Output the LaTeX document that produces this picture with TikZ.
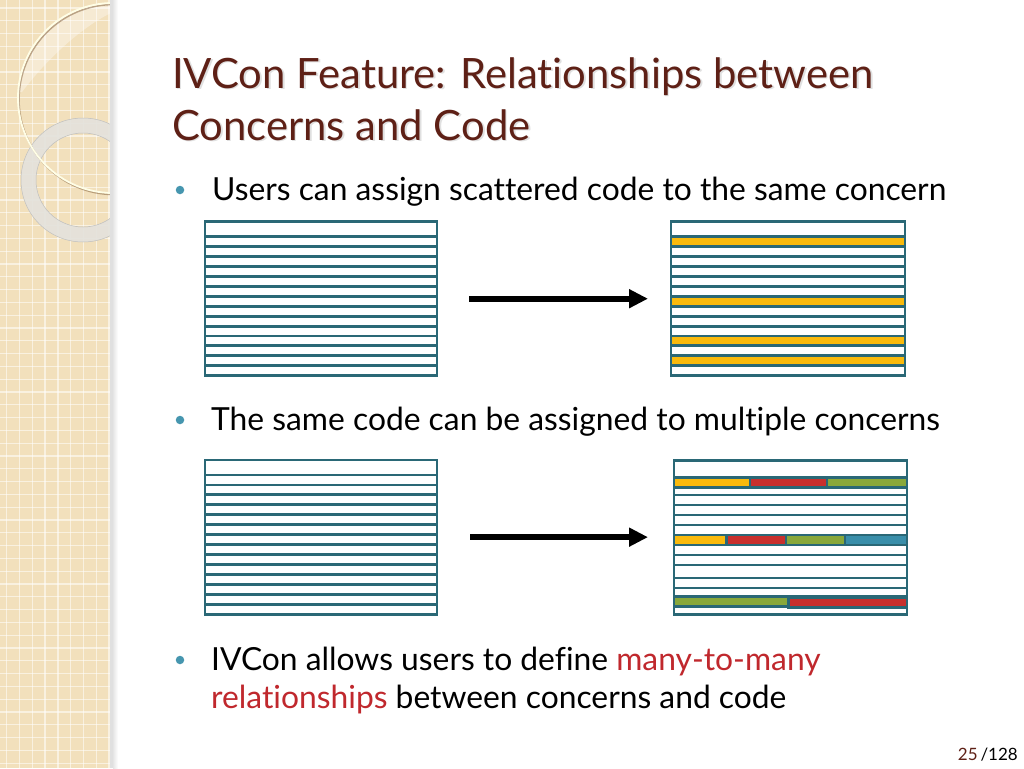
\documentclass[tikz,border=0pt]{standalone}
\usepackage{fontspec}
\setmainfont[Ligatures=NoCommon]{Lato}
\usetikzlibrary{arrows.meta}
\definecolor{rowc}{RGB}{42,104,118}
\definecolor{cyel}{RGB}{250,186,12}
\definecolor{cred}{RGB}{200,48,45}
\definecolor{cgrn}{RGB}{137,168,58}
\definecolor{cblu}{RGB}{58,143,170}
\definecolor{titlec}{RGB}{94,32,22}
\definecolor{redtxt}{RGB}{192,40,45}
\definecolor{bulc}{RGB}{70,150,175}
\definecolor{panelbg}{RGB}{242,224,188}
\definecolor{ringc}{RGB}{228,226,220}
\tikzset{
  boxframe/.style={draw=rowc, line width=2.9pt, rectangle, inner sep=0pt, outer sep=0pt, anchor=north west},
  rowline/.style={draw=rowc, line width=2.9pt},
  seg/.style={draw=rowc, line width=2.9pt},
  bigarrow/.style={line width=6pt, -{Triangle[length=19pt,width=18pt]}},
  bul/.style={circle, fill=bulc, inner sep=0pt, minimum size=8.5pt},
  body/.style={anchor=base west, inner sep=0pt, font=\fontsize{31.8}{38}\selectfont},
  ttl/.style={anchor=base west, inner sep=0pt, text=titlec, font=\fontsize{41.8}{52}\selectfont},
  gridl/.style={draw=white, line width=1.3pt, opacity=0.55}
}
\begin{document}
\begin{tikzpicture}[x=1pt,y=-1pt]
\useasboundingbox (0,0) rectangle (1024,768);
\fill[white] (0,0) rectangle (1024,768);
% ---- left decorative panel
\fill[panelbg] (0,0) rectangle (113,768);
\foreach \x in {6.7,19.5,...,112} \draw[gridl] (\x,0) -- (\x,768);
\foreach \y in {8,20.8,...,768} \draw[gridl] (0,\y) -- (113,\y);
\begin{scope}
  \clip (0,0) rectangle (113,768);
  \begin{scope}
    \clip (113,98) circle (95);
    \fill[white, opacity=0.35] (22,92) .. controls (50,55) and (85,25) .. (113,12) -- (113,-5) -- (0,-5) -- (0,92) -- cycle;
  \end{scope}
  \fill[ringc, opacity=0.92, even odd rule] (83,180) circle (62) (83,180) circle (47);
  \draw[black!25, line width=0.5pt] (83,180) circle (62) (83,180) circle (47);
  \draw[brown!60!black, opacity=0.45, line width=1.6pt] (114,99.5) circle (95);
  \draw[white!90!yellow, line width=1.8pt] (113,98) circle (95);
\end{scope}
\fill[black!12] (110,0) rectangle (113,768);
\shade[left color=black!10, right color=white] (113,0) rectangle (118,768);
% ---- title
\node[ttl, text=black!20, opacity=0.6] (tsh1) at (173.5,89.5) {IVCon Feature: Relationships between};
\node[ttl, text=black!20, opacity=0.6] (tsh2) at (173.5,141.5) {Concerns and Code};
\node[ttl] (t1) at (172,88) {IVCon Feature: Relationships between};
\node[ttl] (t2) at (172,140) {Concerns and Code};
% ---- bullets
\node[bul] (d1) at (180,190) {};
\node[body] (l1) at (212,200) {Users can assign scattered code to the same concern};
\node[bul] (d2) at (180,420) {};
\node[body] (l2) at (211,430) {The same code can be assigned to multiple concerns};
\node[bul] (d3) at (180,660) {};
\node[body] (l3) at (211,670) {IVCon allows users to define \textcolor{redtxt}{many-to-many}};
\node[body] (l4) at (211,708) {\textcolor{redtxt}{relationships} between concerns and code};
% ---- box 1 (top left)
\foreach \k in {0,...,13} \draw[rowline] (205,{236.7+9.93*\k}) -- (437,{236.7+9.93*\k});
\node[boxframe, minimum width=232pt, minimum height=154pt] (b1) at (205,221.7) {};
% ---- box 2 (top right)
\foreach \k in {0,...,13} \draw[rowline] (671,{236.7+9.93*\k}) -- (905,{236.7+9.93*\k});
\foreach \i in {1,7,11,13} \filldraw[seg, fill=cyel] (671,{236.7+9.93*(\i-1)}) rectangle (905,{236.7+9.93*\i});
\node[boxframe, minimum width=234pt, minimum height=154pt] (b2) at (671,221.7) {};
% ---- box 3 (bottom left)
\foreach \k in {0,...,13} \draw[rowline] (205,{475+9.95*\k}) -- (437,{475+9.95*\k});
\node[boxframe, minimum width=232pt, minimum height=154.3pt] (b3) at (205,460) {};
% ---- box 4 (bottom right)
\foreach \yy in {477.7,487.7,495,505,515,525,535,545,555,565,578,588,596.7,606.7} \draw[rowline] (674,\yy) -- (907,\yy);
\filldraw[seg, fill=cyel] (674,477.7) rectangle (750,487.7);
\filldraw[seg, fill=cred] (750,477.7) rectangle (827,487.7);
\filldraw[seg, fill=cgrn] (827,477.7) rectangle (907,487.7);
\filldraw[seg, fill=cyel] (674,535) rectangle (726.5,545);
\filldraw[seg, fill=cred] (726.5,535) rectangle (786,545);
\filldraw[seg, fill=cgrn] (786,535) rectangle (845,545);
\filldraw[seg, fill=cblu] (845,535) rectangle (907,545);
\filldraw[seg, fill=cgrn] (674,596.7) rectangle (788.5,606.7);
\filldraw[seg, fill=cred] (788.5,597.5) rectangle (907,607.5);
\node[boxframe, minimum width=233pt, minimum height=153.6pt] (b4) at (674,460.7) {};
% ---- arrows
\draw[bigarrow] ([xshift=32pt]b1.east) -- ([xshift=-23pt]b1.east -| b2.west);
\draw[bigarrow] ([xshift=33pt]b3.east) -- ([xshift=-26pt]b3.east -| b4.west);
% ---- page number
\node[anchor=base east, inner sep=0pt, font=\fontsize{17}{20}\selectfont] (pg) at (1018,760) {\textcolor{titlec}{25}\,/128};
\end{tikzpicture}
\end{document}
